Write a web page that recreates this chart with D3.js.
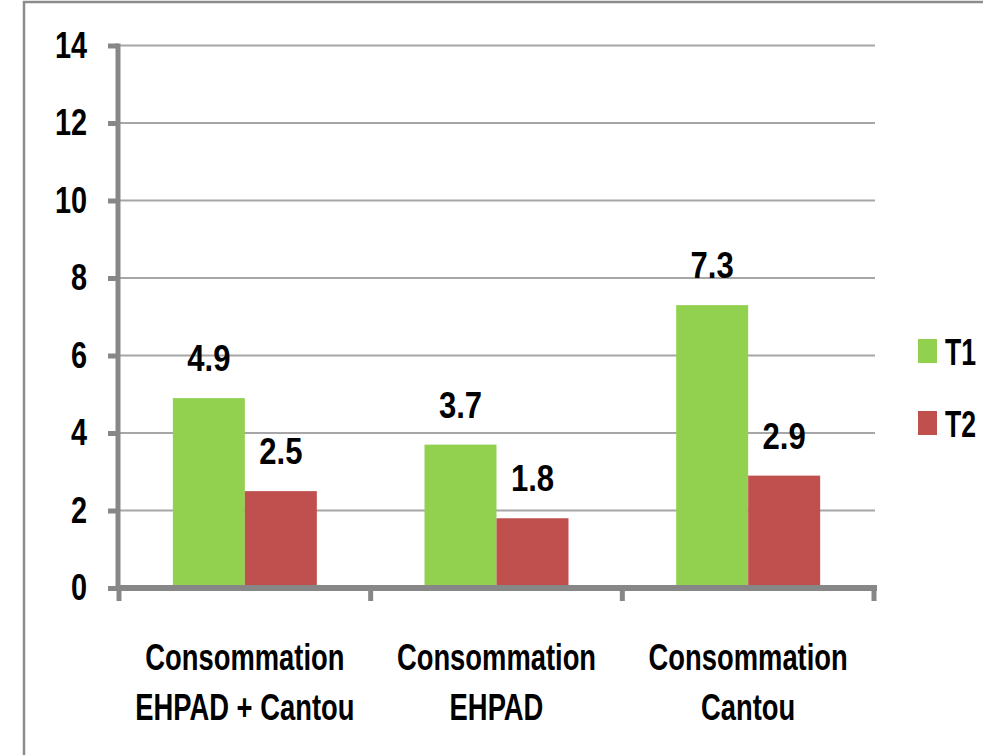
<!DOCTYPE html>
<html>
<head>
<meta charset="utf-8">
<script src="https://cdn.jsdelivr.net/npm/d3@7"></script>
<style>
  html, body { margin: 0; padding: 0; background: #fff; }
  svg text { font-family: "Liberation Sans", Arial, sans-serif; font-weight: bold; fill: #000; }
</style>
</head>
<body>
<svg id="chart" width="983" height="755"></svg>
<script>
// Consumption per category for the two periods
const categories = [
  ["Consommation", "EHPAD + Cantou"],
  ["Consommation", "EHPAD"],
  ["Consommation", "Cantou"]
];
const series = ["T1", "T2"];
const valuesT1 = [4.9, 3.7, 7.3];
const valuesT2 = [2.5, 1.8, 2.9];
const yTicks = [0, 2, 4, 6, 8, 10, 12, 14];
const colors = ["#92D050", "#C0504D"];

// condensed look: squeeze glyphs horizontally around their anchor point
const SQ_TICK = 0.78, SQ_VAL = 0.84, SQ_CAT = 0.74, SQ_LEG = 0.72;

const svg = d3.select("#chart");
const catKeys = categories.map((c, i) => i);

// frame around the chart area
svg.append("rect")
  .attr("x", 24).attr("y", 2)
  .attr("width", 1000).attr("height", 800)
  .attr("fill", "none").attr("stroke", "#8c8c8c").attr("stroke-width", 2.5);

const x0 = d3.scaleBand().domain(catKeys).range([119, 874]).paddingInner(0).paddingOuter(0);
const x1 = d3.scaleBand().domain(series).range([0, x0.bandwidth()]).paddingInner(0).paddingOuter(0.748);
const y = d3.scaleLinear().domain([0, 14]).range([588, 45.5]);

// horizontal gridlines
svg.append("g")
  .selectAll("line")
  .data(yTicks.filter(t => t > 0))
  .join("line")
  .attr("x1", 120).attr("x2", 875)
  .attr("y1", d => y(d)).attr("y2", d => y(d))
  .attr("stroke", "#a6a6a6").attr("stroke-width", 2);

// bars
const rows = categories.map((c, i) => [valuesT1[i], valuesT2[i]]);
const groups = svg.append("g")
  .selectAll("g")
  .data(rows)
  .join("g")
  .attr("transform", (d, i) => `translate(${x0(i)},0)`);

const cells = d => d.map((v, j) => ({ key: series[j], v, j }));

groups.selectAll("rect")
  .data(cells)
  .join("rect")
  .attr("x", d => x1(d.key))
  .attr("width", x1.bandwidth())
  .attr("y", d => y(d.v))
  .attr("height", d => y(0) - y(d.v))
  .attr("fill", d => colors[d.j]);

// value labels
groups.selectAll("text")
  .data(cells)
  .join("text")
  .attr("transform", d => `translate(${x1(d.key) + x1.bandwidth() / 2},${y(d.v) - 27}) scale(${SQ_VAL},1)`)
  .attr("text-anchor", "middle")
  .attr("font-size", 37)
  .text(d => d.v.toFixed(1));

// y axis
const yAxis = svg.append("g")
  .attr("transform", "translate(118,0)")
  .call(d3.axisLeft(y).tickValues(yTicks).tickSize(10).tickPadding(20).tickFormat(d3.format("d")));
yAxis.select(".domain").attr("stroke", "#878787").attr("stroke-width", 5).attr("d", `M0,${y(14) - 2}V${y(0) + 2}`);
yAxis.selectAll(".tick line").attr("stroke", "#878787").attr("stroke-width", 5);
yAxis.selectAll(".tick text")
  .attr("font-size", 37)
  .attr("font-family", null)
  .attr("x", -31 / SQ_TICK)
  .attr("transform", `scale(${SQ_TICK},1)`);

// x axis with boundary ticks between categories
const xAxis = svg.append("g").attr("transform", "translate(0,588)");
xAxis.append("line")
  .attr("x1", 116).attr("x2", 877)
  .attr("y1", 0).attr("y2", 0)
  .attr("stroke", "#878787").attr("stroke-width", 6);
const bounds = catKeys.map(i => x0(i)).concat([x0(catKeys.length - 1) + x0.bandwidth()]);
xAxis.selectAll("line.tick")
  .data(bounds)
  .join("line")
  .attr("class", "tick")
  .attr("x1", d => d).attr("x2", d => d)
  .attr("y1", 0).attr("y2", 13)
  .attr("stroke", "#878787").attr("stroke-width", 5);

// category labels (two lines each)
const catLabels = svg.append("g")
  .selectAll("text")
  .data(categories)
  .join("text")
  .attr("transform", (d, i) => `translate(${x0(i) + x0.bandwidth() / 2},670) scale(${SQ_CAT},1)`)
  .attr("text-anchor", "middle")
  .attr("font-size", 37);
catLabels.selectAll("tspan")
  .data(d => d)
  .join("tspan")
  .attr("x", 0)
  .attr("dy", (d, k) => k === 0 ? 0 : 50)
  .text(d => d);

// legend
const legend = svg.append("g")
  .selectAll("g")
  .data(series)
  .join("g")
  .attr("transform", (d, i) => `translate(918,${339 + i * 72})`);
legend.append("rect")
  .attr("width", 19).attr("height", 24)
  .attr("fill", (d, i) => colors[i]);
legend.append("text")
  .attr("transform", `translate(27,26) scale(${SQ_LEG},1)`)
  .attr("font-size", 37)
  .text(d => d);
</script>
</body>
</html>
